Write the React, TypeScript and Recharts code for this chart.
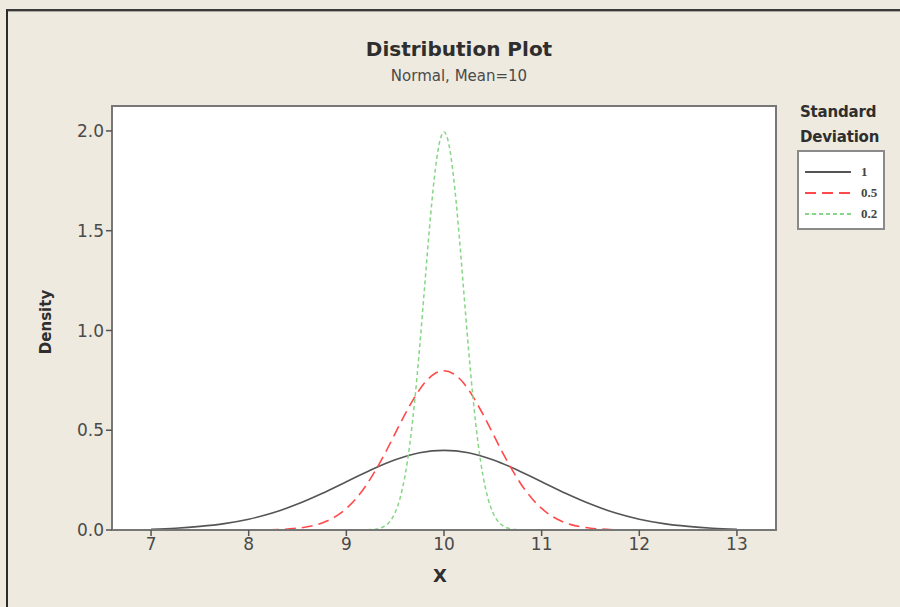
import React from 'react';
import {
  LineChart,
  Line,
  XAxis,
  YAxis,
  CartesianGrid,
  ReferenceArea,
} from 'recharts';

// Normal, Mean=10 — densities for three standard deviations.
const SD1_X = [7, 7.25, 7.5, 7.75, 8, 8.25, 8.5, 8.75, 9, 9.25, 9.5, 9.75, 10, 10.25, 10.5, 10.75, 11, 11.25, 11.5, 11.75, 12, 12.25, 12.5, 12.75, 13];
const SD1_Y = [0.004, 0.009, 0.018, 0.032, 0.054, 0.086, 0.13, 0.183, 0.242, 0.301, 0.352, 0.387, 0.399, 0.387, 0.352, 0.301, 0.242, 0.183, 0.13, 0.086, 0.054, 0.032, 0.018, 0.009, 0.004];

const SD05_X = [7.5, 8, 8.2, 8.3, 8.4, 8.5, 8.6, 8.7, 8.8, 8.9, 9, 9.1, 9.2, 9.3, 9.4, 9.5, 9.6, 9.7, 9.8, 9.9, 10, 10.1, 10.2, 10.3, 10.4, 10.5, 10.6, 10.7, 10.8, 10.9, 11, 11.1, 11.2, 11.3, 11.4, 11.5, 11.6, 11.7, 11.8, 12, 12.5];
const SD05_Y = [0, 0, 0.001, 0.002, 0.005, 0.009, 0.016, 0.027, 0.045, 0.071, 0.108, 0.158, 0.222, 0.3, 0.388, 0.484, 0.579, 0.666, 0.737, 0.782, 0.798, 0.782, 0.737, 0.666, 0.579, 0.484, 0.388, 0.3, 0.222, 0.158, 0.108, 0.071, 0.045, 0.027, 0.016, 0.009, 0.005, 0.002, 0.001, 0, 0];

const SD02_X = [9, 9.15, 9.2, 9.25, 9.3, 9.35, 9.4, 9.45, 9.5, 9.55, 9.6, 9.65, 9.7, 9.75, 9.8, 9.85, 9.9, 9.95, 10, 10.05, 10.1, 10.15, 10.2, 10.25, 10.3, 10.35, 10.4, 10.45, 10.5, 10.55, 10.6, 10.65, 10.7, 10.75, 10.8, 10.85, 11];
const SD02_Y = [0, 0, 0.001, 0.002, 0.004, 0.01, 0.022, 0.045, 0.088, 0.159, 0.27, 0.431, 0.648, 0.913, 1.21, 1.506, 1.76, 1.933, 1.995, 1.933, 1.76, 1.506, 1.21, 0.913, 0.648, 0.431, 0.27, 0.159, 0.088, 0.045, 0.022, 0.01, 0.004, 0.002, 0.001, 0, 0];

const X_TICKS = [7, 8, 9, 10, 11, 12, 13];
const Y_TICKS = [0, 0.5, 1, 1.5, 2];
const X_DOMAIN: [number, number] = [6.6, 13.4];
const Y_DOMAIN: [number, number] = [0, 2.125];

const toRows = (xs: number[], ys: number[]) => xs.map((x, i) => ({ x, y: ys[i] }));

const SERIES = [
  { name: '1', rows: toRows(SD1_X, SD1_Y), color: '#555555', dash: undefined as string | undefined, width: 1.6 },
  { name: '0.5', rows: toRows(SD05_X, SD05_Y), color: '#ff4a4a', dash: '11 6', width: 1.6 },
  { name: '0.2', rows: toRows(SD02_X, SD02_Y), color: '#86d686', dash: '4 3', width: 1.5 },
];

const BG = '#eeeae0';
const AXIS = '#777777';
const TEXT = '#4a4a4a';
const FONT = '"DejaVu Sans", Verdana, sans-serif';

function LegendBox() {
  return (
    <div style={{ position: 'absolute', left: 797, top: 100, fontFamily: FONT, color: '#2e2e2e' }}>
      <div style={{ fontWeight: 'bold', fontSize: 15, lineHeight: '25px', marginLeft: 3, letterSpacing: -0.2 }}>
        Standard
        <br />
        Deviation
      </div>
      <div
        style={{
          marginTop: 0,
          width: 88,
          height: 80,
          border: '2px solid #8a8a8a',
          background: '#fff',
          boxSizing: 'border-box',
          paddingTop: 9,
        }}
      >
        {SERIES.map((s) => (
          <div key={s.name} style={{ display: 'flex', alignItems: 'center', height: 21 }}>
            <svg width={56} height={6} style={{ marginLeft: 6 }}>
              <line x1={0} y1={3} x2={46} y2={3} stroke={s.color} strokeWidth={2} strokeDasharray={s.dash} />
            </svg>
            <span style={{ fontFamily: '"Liberation Serif", serif', fontWeight: 'bold', fontSize: 13, color: '#444' }}>{s.name}</span>
          </div>
        ))}
      </div>
    </div>
  );
}

export default function App() {
  return (
    <div style={{ position: 'fixed', left: 0, top: 0, width: 900, height: 607, background: BG, overflow: 'hidden' }}>
      {/* outer frame, only its left and top edges fall in the picture */}
      <div style={{ position: 'absolute', left: 6, top: 9, width: 900, height: 600, borderLeft: '2px solid #2b2b2b', borderTop: '2px solid #3a3a3a' }} />
      <div style={{ position: 'absolute', left: 8, top: 11, width: 900, height: 1, background: '#a9a89e' }} />

      <div style={{ position: 'absolute', left: 0, top: 37, width: 918, textAlign: 'center', fontFamily: FONT, fontWeight: 'bold', fontSize: 20, color: '#2e2e2e' }}>
        Distribution Plot
      </div>
      <div style={{ position: 'absolute', left: 0, top: 67, width: 918, textAlign: 'center', fontFamily: FONT, fontSize: 15, color: TEXT }}>
        Normal, Mean=10
      </div>

      <div style={{ position: 'absolute', left: 0, top: 0 }}>
        <LineChart width={900} height={607} margin={{ top: 106, right: 124, bottom: 47, left: 0 }}>
          <CartesianGrid horizontal={false} vertical={false} fill="#ffffff" />
          <XAxis
            dataKey="x"
            type="number"
            domain={X_DOMAIN}
            ticks={X_TICKS}
            allowDataOverflow
            height={30}
            axisLine={{ stroke: AXIS, strokeWidth: 2 }}
            tickLine={{ stroke: '#555', strokeWidth: 1.5 }}
            tickSize={6}
            tick={{ fontSize: 17, fill: TEXT, fontFamily: FONT }}
          />
          <YAxis
            type="number"
            domain={Y_DOMAIN}
            ticks={Y_TICKS}
            allowDataOverflow
            width={112}
            axisLine={{ stroke: AXIS, strokeWidth: 2 }}
            tickLine={{ stroke: '#555', strokeWidth: 1.5 }}
            tickSize={6}
            tickFormatter={(v: number) => v.toFixed(1)}
            tick={{ fontSize: 17, fill: TEXT, fontFamily: FONT }}
          />
          <ReferenceArea
            x1={X_DOMAIN[0]}
            x2={X_DOMAIN[1]}
            y1={Y_DOMAIN[0]}
            y2={Y_DOMAIN[1]}
            fill="none"
            fillOpacity={0}
            stroke={AXIS}
            strokeWidth={2}
            ifOverflow="visible"
          />
          {SERIES.map((s) => (
            <Line
              key={s.name}
              data={s.rows}
              dataKey="y"
              name={s.name}
              type="monotone"
              stroke={s.color}
              strokeWidth={s.width}
              strokeDasharray={s.dash}
              dot={false}
              activeDot={false}
              isAnimationActive={false}
            />
          ))}
        </LineChart>
      </div>

      <LegendBox />

      <div style={{ position: 'absolute', left: 46, top: 322, transform: 'translate(-50%, -50%) rotate(-90deg)', fontFamily: FONT, fontWeight: 'bold', fontSize: 15, color: '#2e2e2e' }}>
        Density
      </div>
      <div style={{ position: 'absolute', left: 433, top: 565, fontFamily: FONT, fontWeight: 'bold', fontSize: 18, color: '#2e2e2e' }}>X</div>
    </div>
  );
}
